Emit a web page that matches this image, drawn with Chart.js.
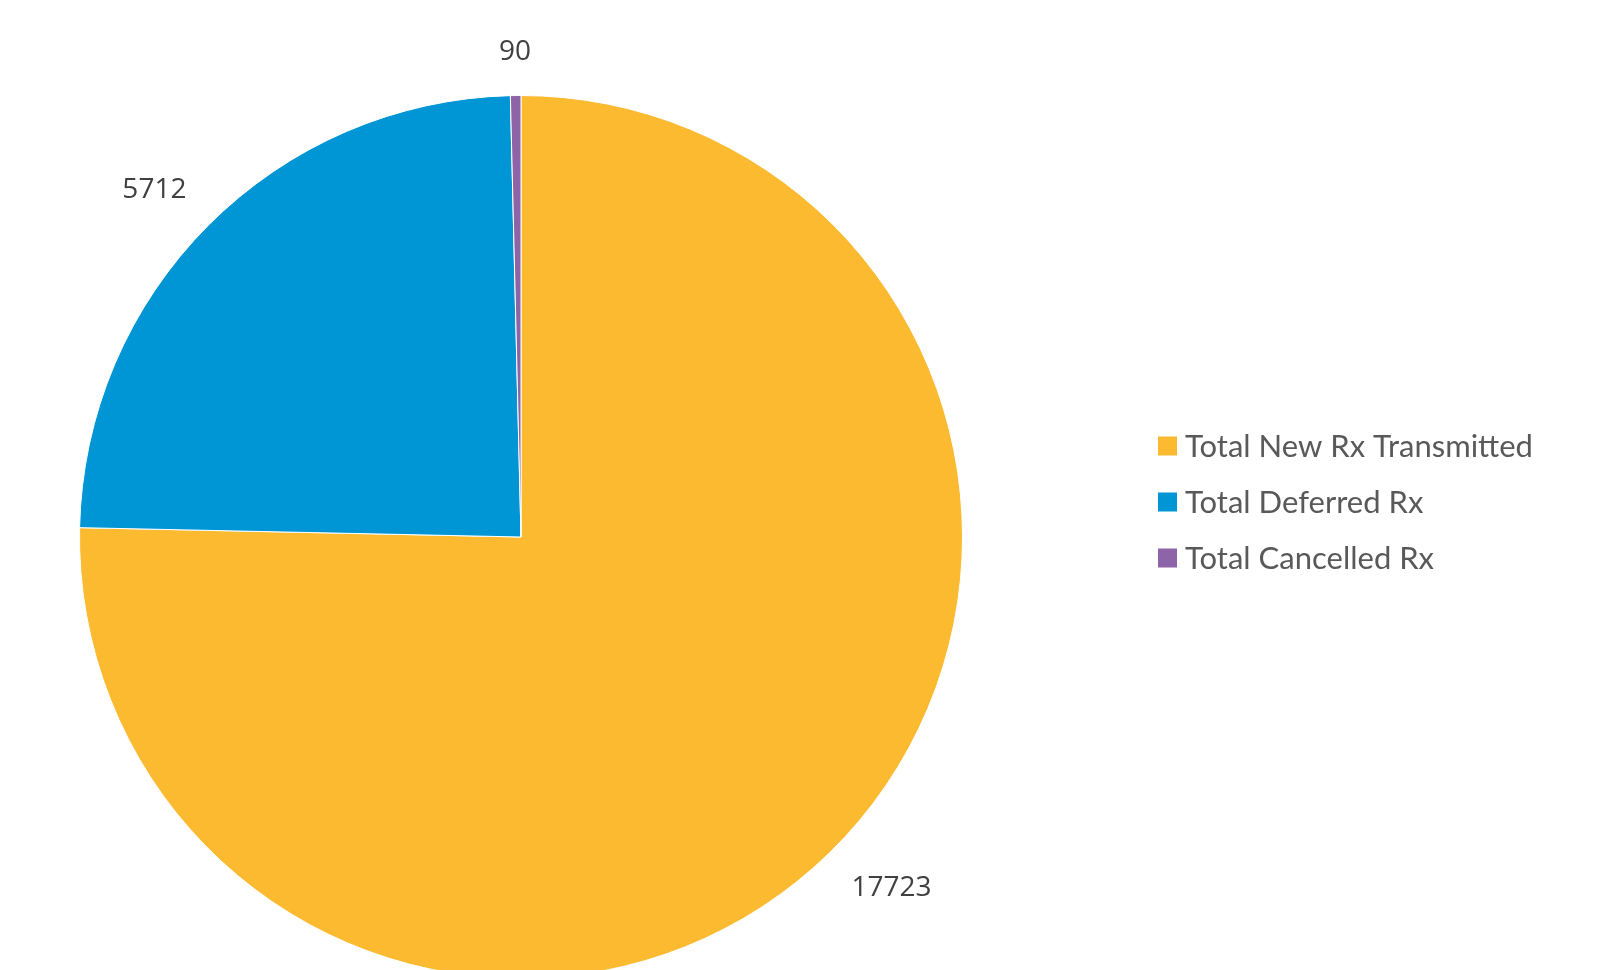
<!DOCTYPE html>
<html>
<head>
<meta charset="utf-8">
<script src="https://cdn.jsdelivr.net/npm/chart.js@4.4.0/dist/chart.umd.min.js"></script>
<style>
html,body{margin:0;padding:0;background:#fff;overflow:hidden;}
#wrap{width:1604px;height:970px;overflow:hidden;position:relative;}
canvas{display:block;}
</style>
</head>
<body>
<div id="wrap"><canvas id="c" width="1604" height="1000"></canvas></div>
<script>
const categories = ["Total New Rx Transmitted", "Total Deferred Rx", "Total Cancelled Rx"];
const values = [17723, 5712, 90];
const colors = ["#FBBA2F", "#0096D6", "#8E64A8"];

const outsideLabels = {
  id: 'outsideLabels',
  afterDatasetsDraw(chart) {
    const ctx = chart.ctx;
    const meta = chart.getDatasetMeta(0);
    ctx.save();
    ctx.font = '28px "Open Sans", sans-serif';
    ctx.fillStyle = '#404040';
    ctx.textAlign = 'center';
    ctx.textBaseline = 'middle';
    const gap = 31;
    const clamp = v => Math.max(-1, Math.min(1, v));
    meta.data.forEach((arc, i) => {
      const p = arc.getProps(['x','y','startAngle','endAngle','outerRadius'], true);
      const mid = (p.startAngle + p.endAngle) / 2;
      const txt = String(chart.data.datasets[0].data[i]);
      const w = ctx.measureText(txt).width;
      const h = 26;
      const cx = Math.cos(mid), cy = Math.sin(mid);
      const d = p.outerRadius + gap;
      const ax = p.x + cx * d, ay = p.y + cy * d;
      ctx.fillText(txt, ax + clamp(cx * 1.5) * w / 2, ay + clamp(cy * 1.5) * h / 2);
    });
    ctx.restore();
  }
};

const sideLegend = {
  id: 'sideLegend',
  afterDraw(chart) {
    const ctx = chart.ctx;
    ctx.save();
    ctx.font = '31px Lato, sans-serif';
    ctx.textBaseline = 'middle';
    const x0 = 1158, y0 = 446, step = 56, box = 19;
    chart.data.labels.forEach((lab, i) => {
      const y = y0 + i * step;
      ctx.fillStyle = chart.data.datasets[0].backgroundColor[i];
      ctx.fillRect(x0, y - box / 2, box, box);
      ctx.fillStyle = '#595959';
      ctx.fillText(lab, x0 + 27, y + 1);
    });
    ctx.restore();
  }
};

new Chart(document.getElementById('c'), {
  type: 'pie',
  data: {
    labels: categories,
    datasets: [{
      data: values,
      backgroundColor: colors,
      borderColor: '#ffffff',
      borderWidth: 1
    }]
  },
  options: {
    responsive: false,
    animation: false,
    layout: { padding: { left: 79, right: 641, top: 95, bottom: 21 } },
    plugins: { legend: { display: false }, tooltip: { enabled: false } }
  },
  plugins: [outsideLabels, sideLegend]
});
</script>
</body>
</html>
